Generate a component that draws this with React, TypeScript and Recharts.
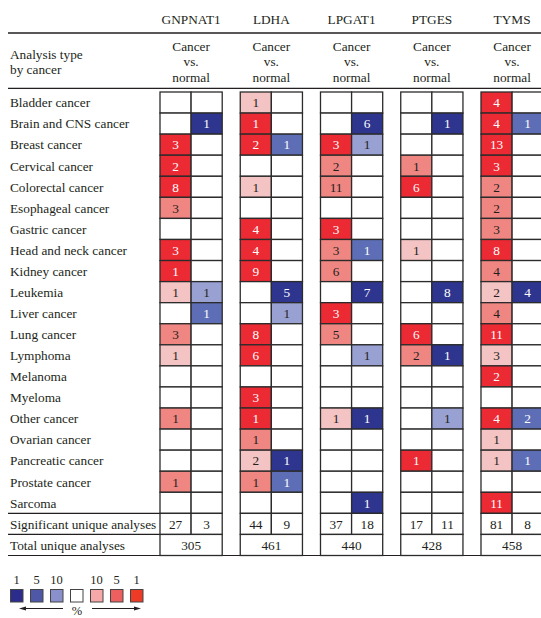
import { Legend, ReferenceLine, Scatter, ScatterChart, XAxis, YAxis } from 'recharts';

// Each entry: [number of analyses, tier]; tier 3 = top 1%, 2 = top 5%, 1 = top 10%, 0 = not significant
type Hit = [number, number];

const genes = ['GNPNAT1', 'LDHA', 'LPGAT1', 'PTGES', 'TYMS'];

const cancerTypes = [
  'Bladder cancer',
  'Brain and CNS cancer',
  'Breast cancer',
  'Cervical cancer',
  'Colorectal cancer',
  'Esophageal cancer',
  'Gastric cancer',
  'Head and neck cancer',
  'Kidney cancer',
  'Leukemia',
  'Liver cancer',
  'Lung cancer',
  'Lymphoma',
  'Melanoma',
  'Myeloma',
  'Other cancer',
  'Ovarian cancer',
  'Pancreatic cancer',
  'Prostate cancer',
  'Sarcoma',
];

const gnpnat1Up: Hit[] = [
  [0, 0], [0, 0], [3, 3], [2, 3], [8, 3], [3, 2], [0, 0], [3, 3], [1, 3], [1, 1],
  [0, 0], [3, 2], [1, 1], [0, 0], [0, 0], [1, 2], [0, 0], [0, 0], [1, 2], [0, 0],
];
const gnpnat1Down: Hit[] = [
  [0, 0], [1, 3], [0, 0], [0, 0], [0, 0], [0, 0], [0, 0], [0, 0], [0, 0], [1, 1],
  [1, 2], [0, 0], [0, 0], [0, 0], [0, 0], [0, 0], [0, 0], [0, 0], [0, 0], [0, 0],
];
const ldhaUp: Hit[] = [
  [1, 1], [1, 3], [2, 3], [0, 0], [1, 1], [0, 0], [4, 3], [4, 3], [9, 3], [0, 0],
  [0, 0], [8, 3], [6, 3], [0, 0], [3, 3], [1, 3], [1, 2], [2, 1], [1, 2], [0, 0],
];
const ldhaDown: Hit[] = [
  [0, 0], [0, 0], [1, 2], [0, 0], [0, 0], [0, 0], [0, 0], [0, 0], [0, 0], [5, 3],
  [1, 1], [0, 0], [0, 0], [0, 0], [0, 0], [0, 0], [0, 0], [1, 3], [1, 2], [0, 0],
];
const lpgat1Up: Hit[] = [
  [0, 0], [0, 0], [3, 3], [2, 2], [11, 2], [0, 0], [3, 3], [3, 2], [6, 2], [0, 0],
  [3, 3], [5, 2], [0, 0], [0, 0], [0, 0], [1, 1], [0, 0], [0, 0], [0, 0], [0, 0],
];
const lpgat1Down: Hit[] = [
  [0, 0], [6, 3], [1, 1], [0, 0], [0, 0], [0, 0], [0, 0], [1, 2], [0, 0], [7, 3],
  [0, 0], [0, 0], [1, 1], [0, 0], [0, 0], [1, 3], [0, 0], [0, 0], [0, 0], [1, 3],
];
const ptgesUp: Hit[] = [
  [0, 0], [0, 0], [0, 0], [1, 2], [6, 3], [0, 0], [0, 0], [1, 1], [0, 0], [0, 0],
  [0, 0], [6, 3], [2, 2], [0, 0], [0, 0], [0, 0], [0, 0], [1, 3], [0, 0], [0, 0],
];
const ptgesDown: Hit[] = [
  [0, 0], [1, 3], [0, 0], [0, 0], [0, 0], [0, 0], [0, 0], [0, 0], [0, 0], [8, 3],
  [0, 0], [0, 0], [1, 3], [0, 0], [0, 0], [1, 1], [0, 0], [0, 0], [0, 0], [0, 0],
];
const tymsUp: Hit[] = [
  [4, 3], [4, 3], [13, 3], [3, 3], [2, 2], [2, 2], [3, 2], [8, 3], [4, 2], [2, 1],
  [4, 2], [11, 3], [3, 1], [2, 3], [0, 0], [4, 3], [1, 1], [1, 1], [0, 0], [11, 3],
];
const tymsDown: Hit[] = [
  [0, 0], [1, 2], [0, 0], [0, 0], [0, 0], [0, 0], [0, 0], [0, 0], [0, 0], [4, 3],
  [0, 0], [0, 0], [0, 0], [0, 0], [0, 0], [2, 2], [0, 0], [1, 2], [0, 0], [0, 0],
];

const significantUp = [27, 44, 37, 17, 81];
const significantDown = [3, 9, 18, 11, 8];
const totalAnalyses = [305, 461, 440, 428, 458];

const legendTicks = ['1', '5', '10', '', '10', '5', '1'];

const geneHits: [Hit[], Hit[]][] = [
  [gnpnat1Up, gnpnat1Down],
  [ldhaUp, ldhaDown],
  [lpgat1Up, lpgat1Down],
  [ptgesUp, ptgesDown],
  [tymsUp, tymsDown],
];

const rowLabels = [...cancerTypes, 'Significant unique analyses', 'Total unique analyses'];

const RED = ['#ffffff', '#f4c3c3', '#f08682', '#ec2a33'];
const BLUE = ['#ffffff', '#98a1d2', '#5d6eb6', '#2e358f'];
const KEY_COLORS = ['#2b2c8c', '#4f58a6', '#8a90cc', '#ffffff', '#f7a9a9', '#ee5f5f', '#ee3b25'];
const INK = '#231f20';
const FONT = '"Liberation Serif", "Times New Roman", serif';
const FS = 13.3;

const CHART_W = 546;
const CHART_H = 618;
const LABEL_W = 160;
const HEADER_H = 92;
const FOOT_H = 62.5;
const X_MAX = 12.41;
const GROUP_PITCH = 2.58;
const ROWS = rowLabels.length;
const CELL_W = (CHART_W - LABEL_W) / X_MAX;
const CELL_H = (CHART_H - HEADER_H - FOOT_H) / ROWS;

interface CellDatum {
  x: number;
  y: number;
  span: number;
  text: string;
  fill: string;
  ink: string;
}

const cells: CellDatum[] = [];
geneHits.forEach(([up, down], g) => {
  [up, down].forEach((hits, d) => {
    const palette = d === 0 ? RED : BLUE;
    hits.forEach(([count, tier], r) => {
      const strong = tier === 3 || (d === 1 && tier === 2);
      cells.push({
        x: g * GROUP_PITCH + d + 0.5,
        y: r + 0.5,
        span: 1,
        text: count ? String(count) : '',
        fill: palette[tier],
        ink: strong ? '#ffffff' : INK,
      });
    });
    cells.push({
      x: g * GROUP_PITCH + d + 0.5,
      y: cancerTypes.length + 0.5,
      span: 1,
      text: String(d === 0 ? significantUp[g] : significantDown[g]),
      fill: '#ffffff',
      ink: INK,
    });
  });
  cells.push({
    x: g * GROUP_PITCH + 1,
    y: cancerTypes.length + 1.5,
    span: 2,
    text: String(totalAnalyses[g]),
    fill: '#ffffff',
    ink: INK,
  });
});

const geneTicks = genes.map((_, g) => g * GROUP_PITCH + 1);
const rowTicks = rowLabels.map((_, r) => r + 0.5);

function HeatCell(props: any) {
  const { cx, cy, payload } = props;
  const w = CELL_W * payload.span;
  return (
    <g>
      <rect
        x={cx - w / 2}
        y={cy - CELL_H / 2}
        width={w}
        height={CELL_H}
        fill={payload.fill}
        stroke="#2b2b2b"
        strokeWidth={1.3}
      />
      {payload.text && (
        <text x={cx} y={cy + 4.8} textAnchor="middle" fontSize={FS} fill={payload.ink}>
          {payload.text}
        </text>
      )}
    </g>
  );
}

function RowLabel(props: any) {
  const { y, payload } = props;
  const r = Math.round(payload.value - 0.5);
  return (
    <text x={10} y={y + 4.8} fontSize={FS} fill={INK}>
      {rowLabels[r]}
    </text>
  );
}

function GeneHeader(props: any) {
  const { x, payload } = props;
  const g = Math.round((payload.value - 1) / GROUP_PITCH);
  return (
    <g fontSize={FS} fill={INK} textAnchor="middle">
      <text x={x} y={23.5}>{genes[g]}</text>
      <text x={x} y={50.5}>Cancer</text>
      <text x={x} y={66}>vs.</text>
      <text x={x} y={81.5}>normal</text>
    </g>
  );
}

function PercentKey() {
  const top = 570;
  return (
    <svg width={160} height={48} style={{ fontFamily: FONT, display: 'block' }}>
      {KEY_COLORS.map((c, i) => (
        <g key={i}>
          <text x={16.5 + i * 20} y={583.5 - top} fontSize={12.5} textAnchor="middle" fill={INK}>
            {legendTicks[i]}
          </text>
          <rect x={10.5 + i * 20} y={589.5 - top} width={12.5} height={12.5} fill={c} stroke="#444" strokeWidth={1} />
        </g>
      ))}
      <line x1={24} y1={608.5 - top} x2={63} y2={608.5 - top} stroke={INK} strokeWidth={1} />
      <polygon points={`19,${608.5 - top} 26,${606.5 - top} 26,${610.5 - top}`} fill={INK} />
      <line x1={92} y1={608.5 - top} x2={136} y2={608.5 - top} stroke={INK} strokeWidth={1} />
      <polygon points={`141,${608.5 - top} 134,${606.5 - top} 134,${610.5 - top}`} fill={INK} />
      <text x={77} y={614.5 - top} fontSize={12.5} textAnchor="middle" fill={INK}>%</text>
    </svg>
  );
}

// table rules, in axis units (rows down, cell widths across)
const leftEdge = (8 - LABEL_W) / CELL_W;
const topRule = (33 - HEADER_H) / CELL_H;
const headRule = (88.3 - HEADER_H) / CELL_H;

export default function App() {
  return (
    <div style={{ position: 'absolute', left: 0, top: 0, width: 541, height: 618, overflow: 'hidden', background: '#fff' }}>
      <ScatterChart
        width={CHART_W}
        height={CHART_H}
        margin={{ top: 0, right: 0, left: 0, bottom: FOOT_H }}
        style={{ fontFamily: FONT }}
      >
        <XAxis
          type="number"
          dataKey="x"
          orientation="top"
          domain={[0, X_MAX]}
          ticks={geneTicks}
          interval={0}
          height={HEADER_H}
          axisLine={false}
          tickLine={false}
          tick={<GeneHeader />}
        />
        <YAxis
          type="number"
          dataKey="y"
          reversed
          domain={[0, ROWS]}
          ticks={rowTicks}
          interval={0}
          width={LABEL_W}
          axisLine={false}
          tickLine={false}
          tick={<RowLabel />}
        />
        <ReferenceLine
          segment={[{ x: leftEdge, y: topRule }, { x: X_MAX, y: topRule }]}
          ifOverflow="visible"
          stroke={INK}
          strokeWidth={1.4}
        />
        <ReferenceLine
          segment={[{ x: leftEdge, y: headRule }, { x: X_MAX, y: headRule }]}
          ifOverflow="visible"
          stroke={INK}
          strokeWidth={1.2}
        />
        <ReferenceLine
          segment={[{ x: leftEdge, y: ROWS }, { x: X_MAX, y: ROWS }]}
          ifOverflow="visible"
          stroke={INK}
          strokeWidth={1.2}
        />
        {[cancerTypes.length, cancerTypes.length + 1].map((r) => (
          <ReferenceLine
            key={r}
            segment={[{ x: leftEdge, y: r }, { x: 0, y: r }]}
            ifOverflow="visible"
            stroke={INK}
            strokeWidth={1.2}
          />
        ))}
        <Scatter data={cells} shape={<HeatCell />} isAnimationActive={false} />
        <g fontSize={FS} fill={INK}>
          <text x={10} y={58.5}>Analysis type</text>
          <text x={10} y={74}>by cancer</text>
        </g>
        <Legend
          layout="vertical"
          align="center"
          verticalAlign="middle"
          wrapperStyle={{ left: 0, top: 570, width: 160, height: 48 }}
          content={() => <PercentKey />}
        />
      </ScatterChart>
    </div>
  );
}
